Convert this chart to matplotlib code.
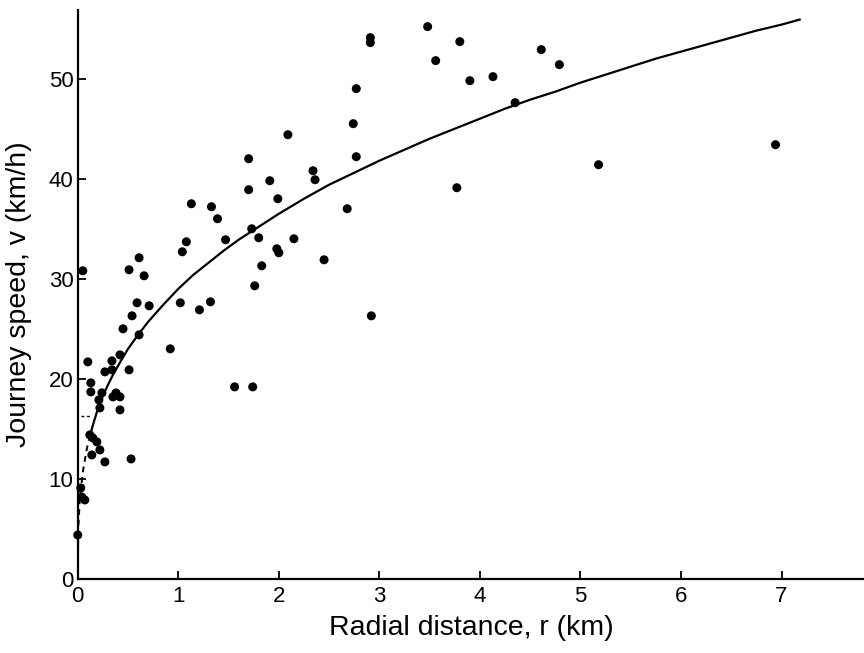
import matplotlib
matplotlib.use("Agg")
import matplotlib.pyplot as plt

# ────── Data ──────

# observed journeys: radial distance r (km), journey speed v (km/h)
r_obs = [
    0.00, 0.03, 0.04, 0.07,
    0.12, 0.15, 0.19, 0.22, 0.14, 0.27, 0.53,
    0.42, 0.22, 0.21, 0.24, 0.38, 0.35, 0.42,
    0.13, 0.13, 0.27, 0.34, 0.51,
    0.10, 0.34, 0.42,
    0.92, 0.45, 0.61, 0.54, 0.59, 0.71,
    1.02, 1.21, 1.32,
    0.05, 0.51, 0.61, 0.66,
    1.04, 1.08, 1.13, 1.33, 1.39, 1.47,
    1.56, 1.74,
    1.70, 1.70, 1.73, 1.80, 1.83, 1.76,
    1.91, 1.99, 1.98, 2.00, 2.09, 2.15,
    2.34, 2.36, 2.45, 2.68, 2.74, 2.77, 2.77,
    2.91, 2.91, 2.92,
    3.48, 3.56, 3.80, 3.77, 3.90, 4.13, 4.35, 4.61, 4.79, 5.18, 6.94,
]
v_obs = [
    4.4, 9.1, 8.2, 7.9,
    14.4, 14.1, 13.7, 12.9, 12.4, 11.7, 12.0,
    16.9, 17.1, 17.9, 18.6, 18.6, 18.2, 18.2,
    19.6, 18.7, 20.7, 20.9, 20.9,
    21.7, 21.8, 22.4,
    23.0, 25.0, 24.4, 26.3, 27.6, 27.3,
    27.6, 26.9, 27.7,
    30.8, 30.9, 32.1, 30.3,
    32.7, 33.7, 37.5, 37.2, 36.0, 33.9,
    19.2, 19.2,
    42.0, 38.9, 35.0, 34.1, 31.3, 29.3,
    39.8, 38.0, 33.0, 32.6, 44.4, 34.0,
    40.8, 39.9, 31.9, 37.0, 45.5, 42.2, 49.0,
    54.1, 53.6, 26.3,
    55.2, 51.8, 53.7, 39.1, 49.8, 50.2, 47.6, 52.9, 51.4, 41.4, 43.4,
]

# fitted curve, read at points along the drawn line
r_fit_dash = [0.0, 0.005, 0.02, 0.05, 0.09, 0.12]
v_fit_dash = [0.0, 5.0, 7.9, 10.7, 13.0, 14.3]

r_fit = [0.12, 0.16, 0.2, 0.25, 0.3, 0.35, 0.4, 0.5, 0.6, 0.7, 0.85, 1.0,
         1.15, 1.3, 1.45, 1.6, 1.8, 2.0, 2.25, 2.5, 2.75, 3.0, 3.25, 3.5,
         3.75, 4.0, 4.25, 4.5, 4.75, 5.0, 5.25, 5.5, 5.75, 6.0, 6.25, 6.5,
         6.75, 7.0, 7.18]
v_fit = [14.3, 15.7, 17.0, 18.3, 19.4, 20.4, 21.3, 23.0, 24.4, 25.7, 27.4, 29.0,
         30.4, 31.6, 32.8, 33.9, 35.2, 36.5, 38.0, 39.4, 40.6, 41.8, 42.9, 44.0,
         45.0, 46.0, 47.0, 47.9, 48.7, 49.6, 50.4, 51.2, 52.0, 52.7, 53.4, 54.1,
         54.8, 55.4, 55.9]

x_ticks = [0, 1, 2, 3, 4, 5, 6, 7]
y_ticks = [0, 10, 20, 30, 40, 50]

# ────── Style ──────

plt.rcParams["font.family"] = ["Liberation Sans", "DejaVu Sans"]
INK = "black"

fig = plt.figure(figsize=(8.64, 6.53), dpi=100)
fig.patch.set_facecolor("white")
ax = fig.add_axes([0.090, 0.1133, 0.910, 0.872])

# ── fitted curve ──
ax.plot(r_fit_dash, v_fit_dash, color=INK, lw=1.4, ls=(0, (3, 2.5)), zorder=2)
ax.plot(r_fit, v_fit, color=INK, lw=1.6, zorder=2, solid_joinstyle="round")
ax.plot([0.03, 0.14], [16.3, 16.3], color=INK, lw=1.0, ls=(0, (2, 2)), zorder=2)

# ── observations ──
ax.scatter(r_obs, v_obs, s=42, color=INK, edgecolors="none", zorder=3,
           clip_on=False)

# ── axes ──
ax.set_xlim(0, 7.82)
ax.set_ylim(0, 56.9)
ax.spines["top"].set_visible(False)
ax.spines["right"].set_visible(False)
for side in ("left", "bottom"):
    ax.spines[side].set_linewidth(1.6)
    ax.spines[side].set_color(INK)

ax.set_xticks(x_ticks)
ax.set_yticks(y_ticks)
ax.tick_params(direction="in", length=6, width=1.3, labelsize=16, colors=INK)
ax.tick_params(axis="x", pad=5)
ax.tick_params(axis="y", pad=3)

ax.set_xlabel("Radial distance, r (km)", fontsize=20.5, labelpad=6)
ax.set_ylabel("Journey speed, v (km/h)", fontsize=20.5, labelpad=12)

fig.savefig("out.png", dpi=100, facecolor="white")
